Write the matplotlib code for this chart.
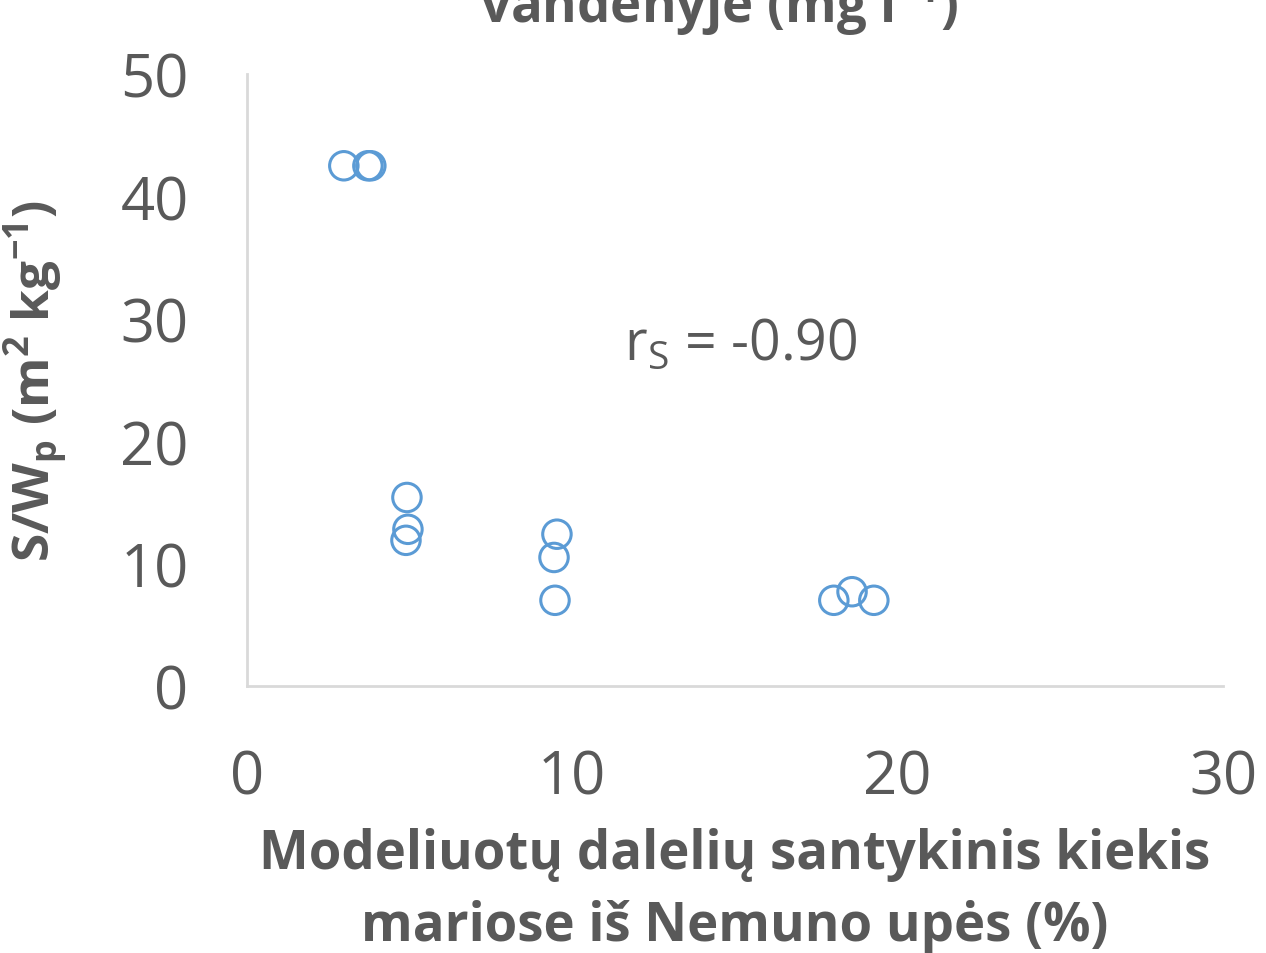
import matplotlib
matplotlib.use("Agg")
from matplotlib import pyplot as plt

# modeliuotų dalelių dalis (%) ir S/Wp (m2 kg-1)
dalis = [2.98, 3.72, 3.81, 4.92, 4.95, 4.89, 9.53, 9.44, 9.47, 18.04, 18.6, 19.27]
s_wp = [42.5, 42.5, 42.5, 15.4, 12.8, 11.9, 12.4, 10.5, 7.0, 7.0, 7.7, 7.0]
x_ticks = [0, 10, 20, 30]
y_ticks = [0, 10, 20, 30, 40, 50]

plt.rcParams['font.family'] = ['Open Sans', 'DejaVu Sans']
gray = '#595959'

fig = plt.figure(figsize=(12.66, 9.54), dpi=100)
ax = fig.add_axes([0.195, 0.2799, 0.771, 0.6415])

ax.scatter(dalis, s_wp, s=420, facecolors='none', edgecolors='#5B9BD5',
           linewidths=2.2, zorder=3)

ax.set_xlim(0, 30)
ax.set_ylim(0, 50)
ax.set_xticks(x_ticks)
ax.set_yticks(y_ticks)
ax.tick_params(length=0, labelsize=43, labelcolor=gray)
ax.tick_params(axis='y', pad=42)
ax.tick_params(axis='x', pad=44)
for s in ['top', 'right']:
    ax.spines[s].set_visible(False)
for s in ['left', 'bottom']:
    ax.spines[s].set_color('#D9D9D9')
    ax.spines[s].set_linewidth(2)

ax.set_xlabel('Modeliuotų dalelių santykinis kiekis\nmariose iš Nemuno upės (%)',
              fontsize=38, fontweight='bold', color=gray, labelpad=14,
              linespacing=1.45)
ax.set_ylabel('S/W$_\\mathregular{p}$ (m$^\\mathregular{2}$ kg$^\\mathregular{-1}$)',
              fontsize=37, fontweight='bold', color=gray, labelpad=36)

ax.text(11.6, 26.7, 'r$_\\mathregular{S}$ = -0.90', fontsize=40, color=gray,
        va='baseline')

fig.text(0.568, 1 - 23 / 954, 'vandenyje (mg l$^\\mathregular{-1}$)',
         fontsize=38, fontweight='bold', color=gray, ha='center', va='baseline')

fig.savefig('out.png', dpi=100)
